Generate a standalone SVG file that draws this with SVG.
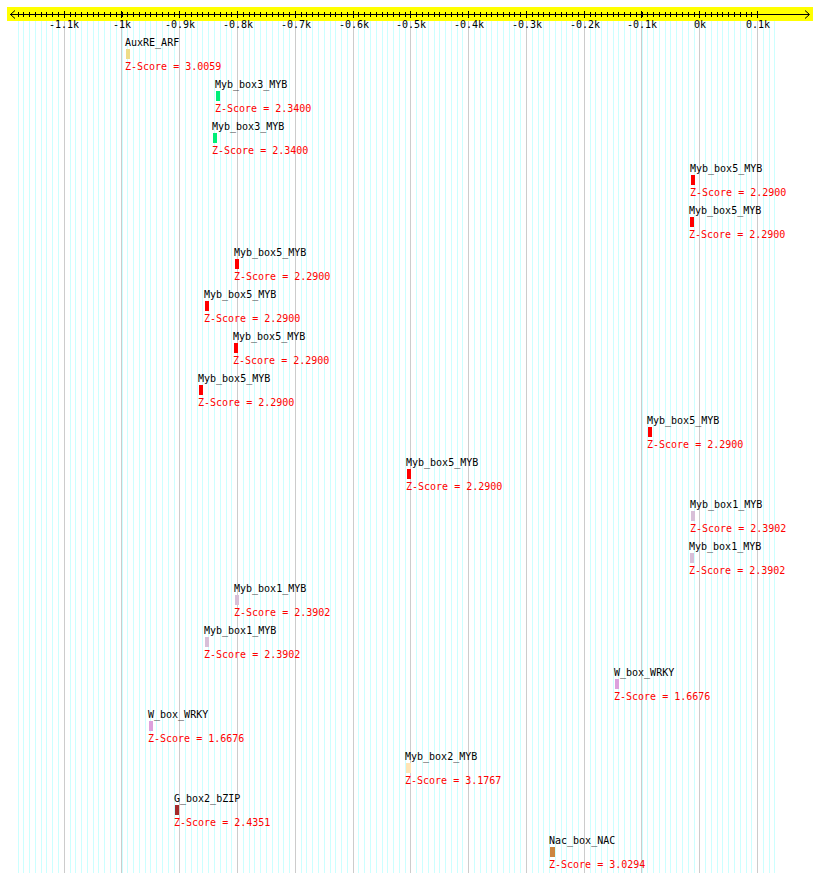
<svg xmlns="http://www.w3.org/2000/svg" width="820" height="883" viewBox="0 0 820 883">
<style>
text{font-family:"DejaVu Sans Mono","Liberation Mono",monospace;font-size:10px}
.lbl{fill:#000}
.z{fill:#ff0000}
.tk{fill:#000;text-anchor:middle}
.minor{stroke:#ccffff;stroke-width:1;fill:none}
.major{stroke:#cccccc;stroke-width:1;fill:none}
.ax{stroke:#000;stroke-width:1;fill:none}
</style>
<rect width="820" height="883" fill="#ffffff"/>
<g id="grid" shape-rendering="crispEdges">
<path class="minor" d="M18.055 21v852m5.7775-852v852m5.7775-852v852m5.7775-852v852m5.7775-852v852m5.7775-852v852m5.7775-852v852m5.7775-852v852m5.7775-852v852m5.7775-852v852m5.7775-852v852m5.7775-852v852m5.7775-852v852m5.7775-852v852m5.7775-852v852m5.7775-852v852m5.7775-852v852m5.7775-852v852m5.7775-852v852m5.7775-852v852m5.7775-852v852m5.7775-852v852m5.7775-852v852m5.7775-852v852m5.7775-852v852m5.7775-852v852m5.7775-852v852m5.7775-852v852m5.7775-852v852m5.7775-852v852m5.7775-852v852m5.7775-852v852m5.7775-852v852m5.7775-852v852m5.7775-852v852m5.7775-852v852m5.7775-852v852m5.7775-852v852m5.7775-852v852m5.7775-852v852m5.7775-852v852m5.7775-852v852m5.7775-852v852m5.7775-852v852m5.7775-852v852m5.7775-852v852m5.7775-852v852m5.7775-852v852m5.7775-852v852m5.7775-852v852m5.7775-852v852m5.7775-852v852m5.7775-852v852m5.7775-852v852m5.7775-852v852m5.7775-852v852m5.7775-852v852m5.7775-852v852m5.7775-852v852m5.7775-852v852m5.7775-852v852m5.7775-852v852m5.7775-852v852m5.7775-852v852m5.7775-852v852m5.7775-852v852m5.7775-852v852m5.7775-852v852m5.7775-852v852m5.7775-852v852m5.7775-852v852m5.7775-852v852m5.7775-852v852m5.7775-852v852m5.7775-852v852m5.7775-852v852m5.7775-852v852m5.7775-852v852m5.7775-852v852m5.7775-852v852m5.7775-852v852m5.7775-852v852m5.7775-852v852m5.7775-852v852m5.7775-852v852m5.7775-852v852m5.7775-852v852m5.7775-852v852m5.7775-852v852m5.7775-852v852m5.7775-852v852m5.7775-852v852m5.7775-852v852m5.7775-852v852m5.7775-852v852m5.7775-852v852m5.7775-852v852m5.7775-852v852m5.7775-852v852m5.7775-852v852m5.7775-852v852m5.7775-852v852m5.7775-852v852m5.7775-852v852m5.7775-852v852m5.7775-852v852m5.7775-852v852m5.7775-852v852m5.7775-852v852m5.7775-852v852m5.7775-852v852m5.7775-852v852m5.7775-852v852m5.7775-852v852m5.7775-852v852m5.7775-852v852m5.7775-852v852m5.7775-852v852m5.7775-852v852m5.7775-852v852m5.7775-852v852m5.7775-852v852m5.7775-852v852m5.7775-852v852m5.7775-852v852m5.7775-852v852m5.7775-852v852m5.7775-852v852m5.7775-852v852m5.7775-852v852m5.7775-852v852m5.7775-852v852"/>
<path class="major" d="M64.5 21v852M121.5 21v852M179.5 21v852M237.5 21v852M295.5 21v852M353.5 21v852M410.5 21v852M468.5 21v852M526.5 21v852M584.5 21v852M641.5 21v852M699.5 21v852M757.5 21v852"/>
</g>
<g id="axis">
<rect x="7" y="7" width="806" height="14" fill="#ffff00"/>
<g shape-rendering="crispEdges">
<path class="ax" d="M10 14.5H809"/>
<path class="ax" d="M18.055 12v5m5.7775-5v5m5.7775-5v5m5.7775-5v5m5.7775-5v5m5.7775-5v5m5.7775-5v5m5.7775-5v5m5.7775-5v5m5.7775-5v5m5.7775-5v5m5.7775-5v5m5.7775-5v5m5.7775-5v5m5.7775-5v5m5.7775-5v5m5.7775-5v5m5.7775-5v5m5.7775-5v5m5.7775-5v5m5.7775-5v5m5.7775-5v5m5.7775-5v5m5.7775-5v5m5.7775-5v5m5.7775-5v5m5.7775-5v5m5.7775-5v5m5.7775-5v5m5.7775-5v5m5.7775-5v5m5.7775-5v5m5.7775-5v5m5.7775-5v5m5.7775-5v5m5.7775-5v5m5.7775-5v5m5.7775-5v5m5.7775-5v5m5.7775-5v5m5.7775-5v5m5.7775-5v5m5.7775-5v5m5.7775-5v5m5.7775-5v5m5.7775-5v5m5.7775-5v5m5.7775-5v5m5.7775-5v5m5.7775-5v5m5.7775-5v5m5.7775-5v5m5.7775-5v5m5.7775-5v5m5.7775-5v5m5.7775-5v5m5.7775-5v5m5.7775-5v5m5.7775-5v5m5.7775-5v5m5.7775-5v5m5.7775-5v5m5.7775-5v5m5.7775-5v5m5.7775-5v5m5.7775-5v5m5.7775-5v5m5.7775-5v5m5.7775-5v5m5.7775-5v5m5.7775-5v5m5.7775-5v5m5.7775-5v5m5.7775-5v5m5.7775-5v5m5.7775-5v5m5.7775-5v5m5.7775-5v5m5.7775-5v5m5.7775-5v5m5.7775-5v5m5.7775-5v5m5.7775-5v5m5.7775-5v5m5.7775-5v5m5.7775-5v5m5.7775-5v5m5.7775-5v5m5.7775-5v5m5.7775-5v5m5.7775-5v5m5.7775-5v5m5.7775-5v5m5.7775-5v5m5.7775-5v5m5.7775-5v5m5.7775-5v5m5.7775-5v5m5.7775-5v5m5.7775-5v5m5.7775-5v5m5.7775-5v5m5.7775-5v5m5.7775-5v5m5.7775-5v5m5.7775-5v5m5.7775-5v5m5.7775-5v5m5.7775-5v5m5.7775-5v5m5.7775-5v5m5.7775-5v5m5.7775-5v5m5.7775-5v5m5.7775-5v5m5.7775-5v5m5.7775-5v5m5.7775-5v5m5.7775-5v5m5.7775-5v5m5.7775-5v5m5.7775-5v5m5.7775-5v5m5.7775-5v5m5.7775-5v5m5.7775-5v5m5.7775-5v5m5.7775-5v5m5.7775-5v5"/>
<path class="ax" d="M64.5 11v7M121.5 11v7M179.5 11v7M237.5 11v7M295.5 11v7M353.5 11v7M410.5 11v7M468.5 11v7M526.5 11v7M584.5 11v7M641.5 11v7M699.5 11v7M757.5 11v7"/>
</g>
<path class="ax" d="M15 10.5L10.5 14.5L15 18.5M805 10.5L809.5 14.5L805 18.5"/>
<text class="tk" x="64" y="27.5">-1.1k</text>
<text class="tk" x="122" y="27.5">-1k</text>
<text class="tk" x="180" y="27.5">-0.9k</text>
<text class="tk" x="238" y="27.5">-0.8k</text>
<text class="tk" x="296" y="27.5">-0.7k</text>
<text class="tk" x="354" y="27.5">-0.6k</text>
<text class="tk" x="411" y="27.5">-0.5k</text>
<text class="tk" x="469" y="27.5">-0.4k</text>
<text class="tk" x="527" y="27.5">-0.3k</text>
<text class="tk" x="585" y="27.5">-0.2k</text>
<text class="tk" x="642" y="27.5">-0.1k</text>
<text class="tk" x="700" y="27.5">0k</text>
<text class="tk" x="758" y="27.5">0.1k</text>
</g>
<g id="connectors"></g>
<g id="f1"><text class="lbl" x="125" y="46">AuxRE_ARF</text><rect x="126" y="49" width="4" height="10" fill="#eedd88"/><text class="z" x="125" y="70">Z-Score = 3.0059</text></g>
<g id="f2"><text class="lbl" x="215" y="88">Myb_box3_MYB</text><rect x="216" y="91" width="4" height="10" fill="#00ee77"/><text class="z" x="215" y="112">Z-Score = 2.3400</text></g>
<g id="f3"><text class="lbl" x="212" y="130">Myb_box3_MYB</text><rect x="213" y="133" width="4" height="10" fill="#00ee77"/><text class="z" x="212" y="154">Z-Score = 2.3400</text></g>
<g id="f4"><text class="lbl" x="690" y="172">Myb_box5_MYB</text><rect x="691" y="175" width="4" height="10" fill="#ff0000"/><text class="z" x="690" y="196">Z-Score = 2.2900</text></g>
<g id="f5"><text class="lbl" x="689" y="214">Myb_box5_MYB</text><rect x="690" y="217" width="4" height="10" fill="#ff0000"/><text class="z" x="689" y="238">Z-Score = 2.2900</text></g>
<g id="f6"><text class="lbl" x="234" y="256">Myb_box5_MYB</text><rect x="235" y="259" width="4" height="10" fill="#ff0000"/><text class="z" x="234" y="280">Z-Score = 2.2900</text></g>
<g id="f7"><text class="lbl" x="204" y="298">Myb_box5_MYB</text><rect x="205" y="301" width="4" height="10" fill="#ff0000"/><text class="z" x="204" y="322">Z-Score = 2.2900</text></g>
<g id="f8"><text class="lbl" x="233" y="340">Myb_box5_MYB</text><rect x="234" y="343" width="4" height="10" fill="#ff0000"/><text class="z" x="233" y="364">Z-Score = 2.2900</text></g>
<g id="f9"><text class="lbl" x="198" y="382">Myb_box5_MYB</text><rect x="199" y="385" width="4" height="10" fill="#ff0000"/><text class="z" x="198" y="406">Z-Score = 2.2900</text></g>
<g id="f10"><text class="lbl" x="647" y="424">Myb_box5_MYB</text><rect x="648" y="427" width="4" height="10" fill="#ff0000"/><text class="z" x="647" y="448">Z-Score = 2.2900</text></g>
<g id="f11"><text class="lbl" x="406" y="466">Myb_box5_MYB</text><rect x="407" y="469" width="4" height="10" fill="#ff0000"/><text class="z" x="406" y="490">Z-Score = 2.2900</text></g>
<g id="f12"><text class="lbl" x="690" y="508">Myb_box1_MYB</text><rect x="691" y="511" width="4" height="10" fill="#d8bfd8"/><text class="z" x="690" y="532">Z-Score = 2.3902</text></g>
<g id="f13"><text class="lbl" x="689" y="550">Myb_box1_MYB</text><rect x="690" y="553" width="4" height="10" fill="#d8bfd8"/><text class="z" x="689" y="574">Z-Score = 2.3902</text></g>
<g id="f14"><text class="lbl" x="234" y="592">Myb_box1_MYB</text><rect x="235" y="595" width="4" height="10" fill="#d8bfd8"/><text class="z" x="234" y="616">Z-Score = 2.3902</text></g>
<g id="f15"><text class="lbl" x="204" y="634">Myb_box1_MYB</text><rect x="205" y="637" width="4" height="10" fill="#d8bfd8"/><text class="z" x="204" y="658">Z-Score = 2.3902</text></g>
<g id="f16"><text class="lbl" x="614" y="676">W_box_WRKY</text><rect x="615" y="679" width="4" height="10" fill="#dda0dd"/><text class="z" x="614" y="700">Z-Score = 1.6676</text></g>
<g id="f17"><text class="lbl" x="148" y="718">W_box_WRKY</text><rect x="149" y="721" width="4" height="10" fill="#dda0dd"/><text class="z" x="148" y="742">Z-Score = 1.6676</text></g>
<g id="f18"><text class="lbl" x="405" y="760">Myb_box2_MYB</text><rect x="406" y="763" width="5" height="10" fill="#ffe4b5"/><text class="z" x="405" y="784">Z-Score = 3.1767</text></g>
<g id="f19"><text class="lbl" x="174" y="802">G_box2_bZIP</text><rect x="175" y="805" width="4" height="10" fill="#a52a2a"/><text class="z" x="174" y="826">Z-Score = 2.4351</text></g>
<g id="f20"><text class="lbl" x="549" y="844">Nac_box_NAC</text><rect x="550" y="847" width="5" height="10" fill="#cd853f"/><text class="z" x="549" y="868">Z-Score = 3.0294</text></g>
</svg>
